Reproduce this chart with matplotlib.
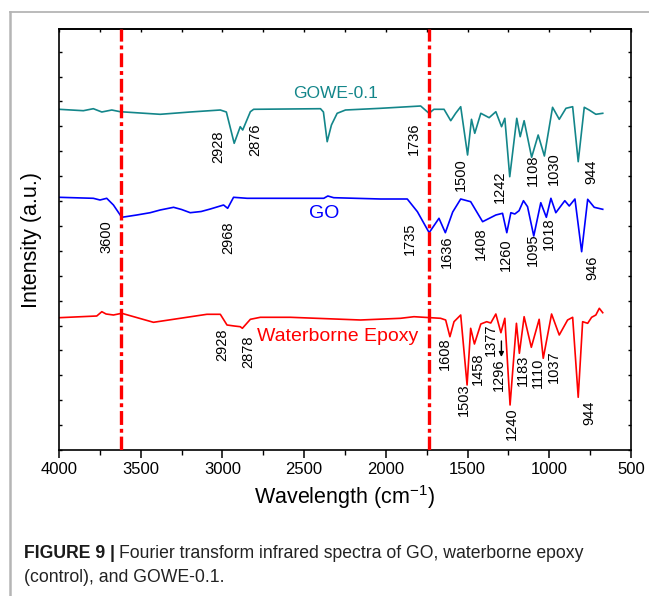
import matplotlib
matplotlib.use("Agg")
import matplotlib.pyplot as plt
from matplotlib.ticker import MultipleLocator, NullFormatter
from matplotlib.lines import Line2D

plt.rcParams['font.family'] = ['Liberation Sans', 'DejaVu Sans']
plt.rcParams['mathtext.fontset'] = 'custom'
plt.rcParams['mathtext.rm'] = 'Liberation Sans'
plt.rcParams['mathtext.it'] = 'Liberation Sans:italic'
plt.rcParams['mathtext.bf'] = 'Liberation Sans:bold'
plt.rcParams['lines.scale_dashes'] = False

# ---- FTIR spectra: wavenumber (cm-1) and stacked intensity (a.u.) ----
gowe_wn = [4000, 3851, 3790, 3738, 3677, 3626, 3381, 3197, 3013, 2976, 2928, 2891,
           2876, 2829, 2809, 2400, 2382, 2359, 2333, 2298, 2247, 2032, 1787, 1736,
           1706, 1644, 1603, 1573, 1542, 1500, 1476, 1456, 1419, 1368, 1327, 1292,
           1272, 1242, 1199, 1178, 1154, 1108, 1068, 1030, 980, 939, 898, 857, 823,
           786, 756, 715, 673]
gowe_int = [340.7, 339.3, 341.3, 338.0, 340.0, 338.3, 335.7, 338.0, 340.0, 338.0,
            306.7, 323.3, 320.0, 338.3, 340.7, 341.3, 338.0, 308.3, 325.0, 336.7,
            340.0, 341.7, 344.0, 336.7, 340.7, 340.7, 329.3, 336.7, 343.3, 295.0,
            330.7, 316.7, 336.7, 332.3, 338.3, 323.3, 331.7, 273.3, 331.7, 313.3,
            329.3, 292.7, 315.0, 294.0, 342.7, 330.7, 341.7, 343.3, 288.3, 342.7,
            340.0, 335.7, 336.7]

go_wn = [4000, 3790, 3749, 3708, 3667, 3616, 3524, 3442, 3381, 3299, 3250, 3197,
         3130, 3074, 2993, 2968, 2932, 2849, 2380, 2355, 2319, 2032, 1869, 1807,
         1735, 1675, 1636, 1591, 1542, 1481, 1408, 1327, 1286, 1260, 1235, 1211,
         1185, 1158, 1133, 1095, 1052, 1018, 990, 960, 905, 878, 843, 802, 765,
         725, 673]
go_int = [252.7, 251.7, 250.0, 251.7, 245.0, 232.7, 235.0, 237.3, 240.0, 242.7,
          240.5, 237.3, 238.5, 241.0, 245.0, 241.7, 252.7, 251.7, 251.7, 254.0,
          252.3, 251.0, 251.0, 238.3, 217.3, 231.7, 217.3, 238.0, 251.0, 248.3,
          228.3, 235.0, 236.7, 217.3, 237.3, 236.0, 239.3, 249.3, 243.3, 214.0,
          247.3, 232.7, 251.7, 237.3, 249.3, 244.0, 251.0, 198.3, 250.7, 242.7,
          240.7]

we_wn = [4000, 3769, 3738, 3712, 3667, 3616, 3422, 3095, 3013, 2972, 2928, 2891,
         2878, 2829, 2768, 2584, 2155, 1910, 1828, 1665, 1634, 1608, 1583, 1542,
         1503, 1481, 1458, 1419, 1383, 1358, 1327, 1296, 1272, 1240, 1201, 1183,
         1154, 1110, 1062, 1037, 986, 939, 888, 857, 823, 796, 765, 741, 715, 694,
         673]
we_int = [132.3, 134.0, 138.3, 136.0, 135.0, 136.7, 127.7, 135.7, 135.7, 125.0,
          124.0, 123.3, 121.7, 130.7, 132.7, 132.7, 130.0, 131.7, 133.3, 131.7,
          130.0, 113.3, 128.3, 135.0, 65.0, 121.7, 106.0, 126.0, 128.3, 127.0,
          136.0, 117.3, 131.7, 45.0, 126.7, 96.7, 133.3, 102.7, 130.7, 91.7,
          136.0, 115.0, 130.0, 132.7, 52.7, 128.3, 126.7, 132.7, 135.0, 141.7,
          137.3]

# marker lines for the O-H and C=O bands
band_lines = [3620, 1736]

# peak annotations (text)
gowe_peaks = ["2928", "2876", "1736", "1500", "1242", "1108", "1030", "944"]
go_peaks = ["3600", "2968", "1735", "1636", "1408", "1260", "1095", "1018", "946"]
we_peaks = ["2928", "2878", "1608", "1503", "1458", "1377", "1296", "1240",
            "1183", "1110", "1037", "944"]

# where each annotation sits (x in cm-1, y in axis units)
gowe_peak_xy = [(3024, 303.3), (2799, 310.0), (1828, 311.7), (1542, 275.0),
                (1301, 263.3), (1103, 280.0), (970, 281.7), (745, 278.3)]
go_peak_xy = [(3712, 213.0), (2964, 212.0), (1853, 211.7), (1624, 198.3),
              (1419, 206.7), (1266, 195.0), (1103, 200.0), (1001, 216.7),
              (735, 181.7)]
we_peak_xy = [(3003, 105.0), (2840, 98.3), (1638, 96.7), (1525, 50.0),
              (1440, 81.7), (1358, 110.0), (1307, 75.0), (1229, 26.7),
              (1164, 80.0), (1072, 76.7), (970, 83.3), (756, 36.7)]

TEAL = "#13868a"
BLUE = "#0000ff"
RED = "#ff0000"

W, H = 649, 596
fig = plt.figure(figsize=(W / 100, H / 100), dpi=100)
fig.patch.set_facecolor("white")

ax = fig.add_axes([59 / W, 1 - 450 / H, 572 / W, 421 / H])

ax.plot(gowe_wn, gowe_int, color=TEAL, lw=1.2)
ax.plot(go_wn, go_int, color=BLUE, lw=1.2)
ax.plot(we_wn, we_int, color=RED, lw=1.2)

for xv in band_lines:
    ax.axvline(xv, color=RED, lw=2.4, linestyle=(0, (10, 2.8, 2.8, 2.8)), zorder=3)

label_kw = dict(rotation=90, ha="center", va="center", fontsize=10.5, color="black")
for txt, (x, y) in zip(gowe_peaks, gowe_peak_xy):
    ax.text(x, y, txt, **label_kw)
for txt, (x, y) in zip(go_peaks, go_peak_xy):
    ax.text(x, y, txt, **label_kw)
for txt, (x, y) in zip(we_peaks, we_peak_xy):
    ax.text(x, y, txt, **label_kw)

# arrow pointing at the 1296 shoulder
ax.annotate("", xy=(1293, 93), xytext=(1293, 109),
            arrowprops=dict(arrowstyle="-|>", color="black", lw=1.0,
                            mutation_scale=7, shrinkA=0, shrinkB=0))

ax.text(2310, 357, "GOWE-0.1", color=TEAL, fontsize=12.5, ha="center", va="center")
ax.text(2380, 236.7, "GO", color=BLUE, fontsize=14, ha="center", va="center")
ax.text(2788, 113.3, "Waterborne Epoxy", color=RED, fontsize=14, ha="left", va="center")

ax.set_xlim(4000, 500)
ax.set_ylim(0, 421)
ax.xaxis.set_major_locator(MultipleLocator(500))
ax.xaxis.set_minor_locator(MultipleLocator(250))
ax.yaxis.set_major_locator(MultipleLocator(24.9))
ax.yaxis.set_major_formatter(NullFormatter())
ax.tick_params(axis="x", which="major", direction="out", length=6, width=1.1,
               labelsize=12, pad=3)
ax.tick_params(axis="x", which="minor", direction="out", length=3.5, width=1.0)
ax.tick_params(axis="y", which="major", direction="in", length=2.5, width=1.0,
               left=True, right=True, labelleft=False)
for s in ax.spines.values():
    s.set_linewidth(1.2)

# small inward ticks along the top edge
top = ax.secondary_xaxis("top")
top.xaxis.set_major_locator(MultipleLocator(500))
top.xaxis.set_minor_locator(MultipleLocator(250))
top.xaxis.set_major_formatter(NullFormatter())
top.tick_params(which="both", direction="in", length=2, width=1.0)
top.spines["top"].set_linewidth(1.2)

ax.set_xlabel("Wavelength (cm$^{\\mathregular{-1}}$)", fontsize=15.5, labelpad=4)
ax.set_ylabel("Intensity (a.u.)", fontsize=15.5, labelpad=12)

# page frame around the figure and caption
fig.add_artist(Line2D([10 / W, 1], [1 - 12 / H, 1 - 12 / H], transform=fig.transFigure,
                      color="#b5b5b5", lw=1.3))
fig.add_artist(Line2D([10 / W, 10 / W], [0, 1 - 12 / H], transform=fig.transFigure,
                      color="#b5b5b5", lw=1.8))

cap_size = 12.7
renderer = fig.canvas.get_renderer()
t_bold = fig.text(24 / W, 1 - 554 / H, "FIGURE 9 |", fontsize=cap_size,
                  weight="bold", va="center", ha="left", color="#1a1a1a")
bb = t_bold.get_window_extent(renderer)
fig.text(bb.x1 / W + 4 / W, 1 - 554 / H,
         "Fourier transform infrared spectra of GO, waterborne epoxy",
         fontsize=cap_size, va="center", ha="left", color="#222222")
fig.text(24 / W, 1 - 577 / H, "(control), and GOWE-0.1.", fontsize=cap_size,
         va="center", ha="left", color="#222222")

fig.savefig("out.png", dpi=100)
